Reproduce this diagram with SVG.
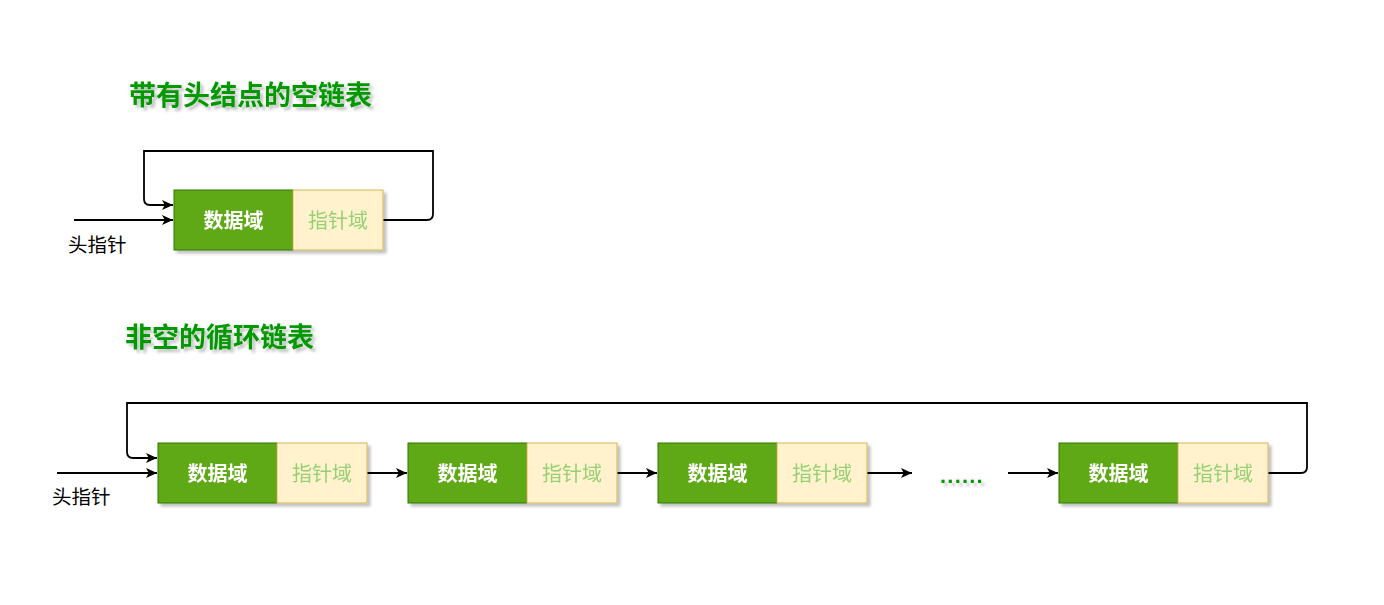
<svg xmlns="http://www.w3.org/2000/svg" width="1384" height="605" viewBox="0 0 1384 605">
<style>
.d{fill:#60a917;stroke:#2d7600;stroke-width:1}
.p{fill:#fff2cc;stroke:#d6b656;stroke-width:1}
.dt{font-family:"Noto Sans CJK SC","Noto Sans",sans-serif;font-size:20px;font-weight:bold;fill:#ffffff;text-anchor:middle;dominant-baseline:central}
.pt{font-family:"Noto Sans CJK SC","Noto Sans",sans-serif;font-size:20px;fill:#97d077;text-anchor:middle;dominant-baseline:central}
.title{font-family:"Noto Sans CJK SC","Noto Sans",sans-serif;font-size:27px;font-weight:bold;fill:#009900}
.lbl{font-family:"Noto Sans CJK SC","Noto Sans",sans-serif;font-size:19.5px;fill:#000000}
.c{fill:none;stroke:#000000;stroke-width:1.8}
</style>
<defs>
<filter id="sh" x="-10%" y="-10%" width="130%" height="140%">
<feGaussianBlur in="SourceAlpha" stdDeviation="1.5"/>
<feOffset dx="3" dy="3" result="b"/>
<feComponentTransfer><feFuncA type="linear" slope="0.25"/></feComponentTransfer>
<feMerge><feMergeNode/><feMergeNode in="SourceGraphic"/></feMerge>
</filter>
<marker id="ar" viewBox="0 0 10 10" refX="10" refY="5" markerWidth="11" markerHeight="11" markerUnits="userSpaceOnUse" orient="auto">
<path d="M0,0.5 L10,5 L0,9.5 L2.5,5 Z" fill="#000"/>
</marker>
</defs>
<rect width="1384" height="605" fill="#ffffff"/>

<g id="title1" filter="url(#sh)"><text class="title" x="129" y="105">带有头结点的空链表</text></g>
<g id="title2" filter="url(#sh)"><text class="title" x="125" y="347">非空的循环链表</text></g>

<g id="connectors">
<path class="c" d="M74,220 L173,220" marker-end="url(#ar)"/>
<path class="c" d="M380,220 L427,220 Q433,220 433,214 L433,151 L144,151 L144,199 Q144,205 150,205 L173,205" marker-end="url(#ar)"/>
<path class="c" d="M57,473 L157,473" marker-end="url(#ar)"/>
<path class="c" d="M1265,473 L1301,473 Q1307,473 1307,467 L1307,403 L127,403 L127,452 Q127,458 133,458 L157,458" marker-end="url(#ar)"/>
<path class="c" d="M357,473 L407,473" marker-end="url(#ar)"/>
<path class="c" d="M607,473 L657,473" marker-end="url(#ar)"/>
<path class="c" d="M857,473 L912,473" marker-end="url(#ar)"/>
<path class="c" d="M1008,473 L1058,473" marker-end="url(#ar)"/>
</g>

<g id="head1"><text class="lbl" x="68" y="252">头指针</text></g>
<g id="head2"><text class="lbl" x="52" y="504">头指针</text></g>

<g id="node0" filter="url(#sh)">
<rect class="d" x="174" y="190" width="119" height="60"/>
<rect class="p" x="293" y="190" width="90" height="60"/>
<text class="dt" x="233.5" y="219">数据域</text>
<text class="pt" x="338" y="219">指针域</text>
</g>

<g id="node1" filter="url(#sh)">
<rect class="d" x="158" y="443" width="119" height="60"/>
<rect class="p" x="277" y="443" width="90" height="60"/>
<text class="dt" x="217.5" y="472">数据域</text>
<text class="pt" x="322" y="472">指针域</text>
</g>
<g id="node2" filter="url(#sh)">
<rect class="d" x="408" y="443" width="119" height="60"/>
<rect class="p" x="527" y="443" width="90" height="60"/>
<text class="dt" x="467.5" y="472">数据域</text>
<text class="pt" x="572" y="472">指针域</text>
</g>
<g id="node3" filter="url(#sh)">
<rect class="d" x="658" y="443" width="119" height="60"/>
<rect class="p" x="777" y="443" width="90" height="60"/>
<text class="dt" x="717.5" y="472">数据域</text>
<text class="pt" x="822" y="472">指针域</text>
</g>
<g id="dots" filter="url(#sh)"><text x="962" y="483" style="font-family:'Liberation Sans',sans-serif;font-size:22px;font-weight:bold;fill:#009900;text-anchor:middle;letter-spacing:1.2px">......</text></g>
<g id="node4" filter="url(#sh)">
<rect class="d" x="1059" y="443" width="119" height="60"/>
<rect class="p" x="1178" y="443" width="90" height="60"/>
<text class="dt" x="1118.5" y="472">数据域</text>
<text class="pt" x="1223" y="472">指针域</text>
</g>
</svg>
